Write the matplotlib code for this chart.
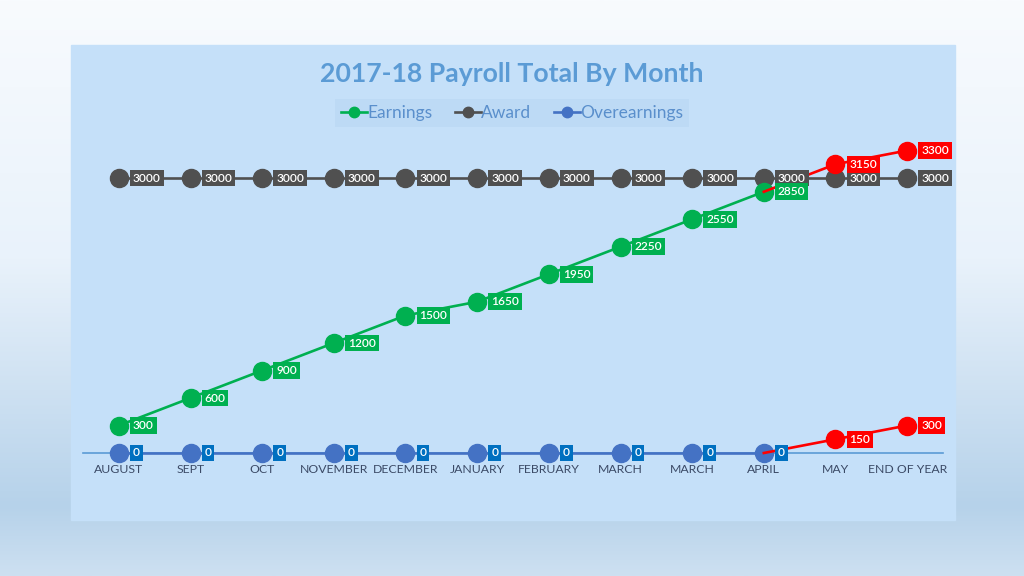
import numpy as np
import matplotlib
matplotlib.use("Agg")
import matplotlib.pyplot as plt
from matplotlib.colors import LinearSegmentedColormap
from matplotlib.lines import Line2D

months = ["AUGUST", "SEPT", "OCT", "NOVEMBER", "DECEMBER", "JANUARY",
          "FEBRUARY", "MARCH", "MARCH", "APRIL", "MAY", "END OF YEAR"]
earnings = [300, 600, 900, 1200, 1500, 1650, 1950, 2250, 2550, 2850, 3150, 3300]
award = [3000] * 12
overearnings = [0, 0, 0, 0, 0, 0, 0, 0, 0, 0, 150, 300]
n_actual = 10  # months up to APRIL are actuals, the rest projected (red)

GREEN = "#00b050"
GRAY = "#505050"
BLUE = "#4472c4"
BOX_BLUE = "#0070c0"
RED = "#ff0000"
FONT = ["Lato", "DejaVu Sans"]

plt.rcParams["font.family"] = FONT


def main():
    fig = plt.figure(figsize=(10.24, 5.76), dpi=100)

    # page background gradient
    bg = fig.add_axes([0, 0, 1, 1], zorder=-10)
    cmap = LinearSegmentedColormap.from_list(
        "bg", [(0.0, "#f8fbfe"), (0.45, "#e9f2fb"), (0.88, "#b6d2ea"), (1.0, "#cde0f1")])
    grad = np.linspace(0, 1, 256).reshape(-1, 1)
    bg.imshow(grad, aspect="auto", cmap=cmap, extent=[0, 1, 0, 1], origin="upper")
    bg.set_axis_off()

    # chart panel
    fig.patches.append(plt.Rectangle((71 / 1024, 1 - 520 / 576), 884 / 1024, 475 / 576,
                                     transform=fig.transFigure, color="#c5e0f9", zorder=-5))

    ax = fig.add_axes([83 / 1024, 1 - 453 / 576, 860 / 1024, (453 - 150.5) / 576])
    ax.set_facecolor("none")
    x = np.arange(len(months))
    ax.set_xlim(-0.5, len(months) - 0.5)
    ax.set_ylim(0, 3300)
    for s in ["top", "right", "left"]:
        ax.spines[s].set_visible(False)
    ax.spines["bottom"].set_color("#5b9bd5")
    ax.spines["bottom"].set_linewidth(1.2)
    ax.set_yticks([])
    ax.set_xticks(x)
    ax.set_xticklabels(months, fontsize=8.8, color="#3b4a66")
    ax.tick_params(axis="x", length=0, pad=8)

    def draw_series(vals, color, box_color, z, projected=True):
        k = n_actual if projected else len(vals)
        ax.plot(x[:k], vals[:k], color=color, lw=1.9, marker="o", ms=13,
                clip_on=False, zorder=z)
        if projected:
            ax.plot(x[k - 1:], vals[k - 1:], color=RED, lw=1.9, clip_on=False, zorder=z)
            ax.plot(x[k:], vals[k:], color=RED, lw=0, marker="o", ms=13,
                    clip_on=False, zorder=z)
        for i, v in enumerate(vals):
            fc = box_color if i < k else RED
            ax.annotate(str(v), (x[i], v), xytext=(14, 0), textcoords="offset pixels",
                        ha="left", va="center", fontsize=8.6, color="white",
                        fontweight="semibold", zorder=z + 10, annotation_clip=False,
                        bbox=dict(boxstyle="square,pad=0.25", fc=fc, ec="none"))

    draw_series(award, GRAY, GRAY, 3, projected=False)
    draw_series(earnings, GREEN, GREEN, 4)
    draw_series(overearnings, BLUE, BOX_BLUE, 5)

    fig.text(0.5, 1 - 74 / 576, "2017-18 Payroll Total By Month", ha="center", va="center",
             fontsize=19.2, fontweight="bold", color="#5b9bd5")

    handles = [Line2D([], [], color=c, lw=1.9, marker="o", ms=7.5) for c in (GREEN, GRAY, BLUE)]
    leg = fig.legend(handles, ["Earnings", "Award", "Overearnings"], loc="center",
                     bbox_to_anchor=(0.5, 1 - 113 / 576), ncol=3, frameon=True,
                     fontsize=12.5, handlelength=1.5, handletextpad=0.0, columnspacing=1.3,
                     borderpad=0.35, fancybox=False)
    leg.get_frame().set_facecolor("#b9d6f3")
    leg.get_frame().set_edgecolor("none")
    leg.get_frame().set_alpha(0.6)
    for t in leg.get_texts():
        t.set_color("#5a8fcc")

    fig.savefig("out.png", dpi=100)


if __name__ == "__main__":
    main()
